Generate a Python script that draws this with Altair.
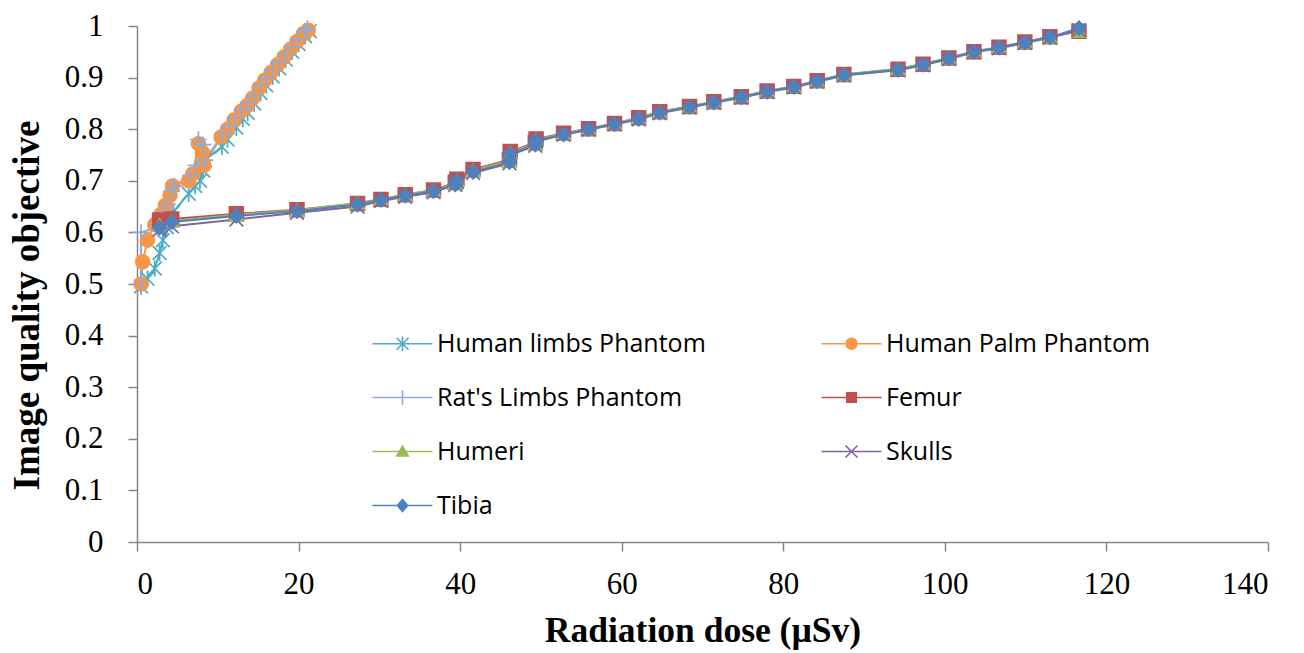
import altair as alt
import pandas as pd

# ---------------- data ----------------
series_names = ["Human limbs Phantom", "Human Palm Phantom", "Rat's Limbs Phantom",
                "Femur", "Humeri", "Skulls", "Tibia"]

limbs_x = [0.5, 1.3, 2.2, 2.8, 3.2, 3.7, 4.5, 6.4, 7.2, 7.8, 8.2, 8.4, 10.5, 11.2, 12.3, 13.1,
           13.7, 14.5, 15.3, 16.0, 16.8, 17.6, 18.4, 19.2, 20.0, 20.8, 21.4]
limbs_y = [0.495, 0.510, 0.530, 0.560, 0.585, 0.610, 0.640, 0.675, 0.690, 0.700, 0.720, 0.740,
           0.766, 0.780, 0.803, 0.820, 0.832, 0.850, 0.870, 0.885, 0.902, 0.918, 0.935, 0.950,
           0.965, 0.980, 0.990]

palm_x = [0.5, 0.7, 1.3, 2.2, 3.0, 3.5, 4.1, 4.4, 6.4, 6.9, 7.6, 8.1, 8.3, 10.4, 11.2, 12.0,
          12.9, 13.6, 14.3, 15.1, 15.8, 16.6, 17.4, 18.2, 19.0, 19.8, 20.6, 21.2]
palm_y = [0.500, 0.543, 0.585, 0.615, 0.635, 0.652, 0.672, 0.690, 0.700, 0.713, 0.772, 0.755,
          0.730, 0.785, 0.800, 0.818, 0.835, 0.845, 0.860, 0.880, 0.895, 0.910, 0.925, 0.940,
          0.955, 0.970, 0.985, 0.992]

rat_x = [0.5, 0.5, 2.5, 3.2, 3.8, 4.3, 4.6, 6.6, 7.3, 7.6, 8.2, 8.4, 10.6, 11.4, 12.2, 13.0,
         13.8, 14.5, 15.3, 16.0, 16.8, 17.6, 18.4, 19.2, 20.0, 20.8, 21.1]
rat_y = [0.500, 0.600, 0.610, 0.640, 0.655, 0.680, 0.690, 0.710, 0.730, 0.780, 0.770, 0.740,
         0.790, 0.805, 0.822, 0.838, 0.850, 0.865, 0.885, 0.900, 0.915, 0.930, 0.945, 0.960,
         0.975, 0.990, 0.995]

bone_x = [2.8, 4.3, 12.3, 19.8, 27.3, 30.2, 33.2, 36.7, 39.4, 39.6, 41.6, 46.1, 46.2, 49.3,
          49.4, 52.8, 55.9, 59.1, 62.1, 64.7, 68.4, 71.4, 74.8, 78.0, 81.3, 84.2, 87.5, 94.2,
          97.3, 100.5, 103.6, 106.7, 109.9, 113.0, 116.6]
femur_y = [0.624, 0.626, 0.636, 0.644, 0.656, 0.664, 0.673, 0.682, 0.697, 0.703, 0.722, 0.741,
           0.757, 0.774, 0.781, 0.792, 0.801, 0.811, 0.822, 0.834, 0.844, 0.853, 0.863, 0.874,
           0.883, 0.894, 0.906, 0.916, 0.926, 0.938, 0.950, 0.959, 0.969, 0.979, 0.990]
humeri_y = [0.615, 0.622, 0.634, 0.643, 0.657, 0.665, 0.673, 0.682, 0.695, 0.701, 0.720, 0.739,
            0.755, 0.772, 0.780, 0.791, 0.801, 0.811, 0.822, 0.834, 0.844, 0.853, 0.864, 0.874,
            0.883, 0.894, 0.906, 0.917, 0.927, 0.938, 0.951, 0.959, 0.969, 0.979, 0.990]
skulls_y = [0.605, 0.612, 0.625, 0.638, 0.650, 0.661, 0.669, 0.678, 0.692, 0.698, 0.715, 0.734,
            0.750, 0.768, 0.776, 0.789, 0.799, 0.809, 0.819, 0.831, 0.842, 0.851, 0.861, 0.872,
            0.881, 0.892, 0.904, 0.914, 0.924, 0.936, 0.949, 0.957, 0.967, 0.977, 0.992]
tibia_y = [0.609, 0.620, 0.632, 0.641, 0.654, 0.663, 0.671, 0.680, 0.693, 0.700, 0.717, 0.736,
           0.752, 0.770, 0.778, 0.790, 0.800, 0.810, 0.820, 0.832, 0.843, 0.852, 0.862, 0.873,
           0.882, 0.893, 0.905, 0.915, 0.925, 0.937, 0.950, 0.958, 0.968, 0.978, 0.996]

x_ticks = [0, 20, 40, 60, 80, 100, 120, 140]
y_ticks = [0, 0.1, 0.2, 0.3, 0.4, 0.5, 0.6, 0.7, 0.8, 0.9, 1.0]

# ---------------- styles ----------------
colors = ["#4BACC6", "#F79646", "#8FA9DA", "#C0504D", "#9BBB59", "#8064A2", "#4F81BD"]
ASTER = "M-1,-1L1,1M-1,1L1,-1M0,-1.2V1.2"
PLUS = "M-1.2,0H1.2M0,-1.2V1.2"
CROSS = "M-1,-1L1,1M-1,1L1,-1"
marker_shapes = [ASTER, "circle", PLUS, "square", "triangle-up", CROSS, "diamond"]
legend_markers = [ASTER, "M0.9,0A0.9,0.9 0 1,1 -0.9,0A0.9,0.9 0 1,1 0.9,0Z", PLUS,
                  "M-0.8,-0.8H0.8V0.8H-0.8Z", "M0,-0.9L0.95,0.75H-0.95Z", CROSS,
                  "M0,-1L0.85,0L0,1L-0.85,0Z"]
LINE = "M-5,0H5"
legend_shapes = [LINE + m for m in legend_markers]

series_xy = [(limbs_x, limbs_y), (palm_x, palm_y), (rat_x, rat_y),
             (bone_x, femur_y), (bone_x, humeri_y), (bone_x, skulls_y), (bone_x, tibia_y)]
rows = []
for si, (name, (xs, ys)) in enumerate(zip(series_names, series_xy)):
    for k, (xv, yv) in enumerate(zip(xs, ys)):
        rows.append({"series": name, "dose": xv, "q": yv, "s": si, "k": k})
df = pd.DataFrame(rows)
df_leg = df[df["k"] == 0]

x_enc = alt.X("dose:Q", scale=alt.Scale(domain=[0, 140], nice=False),
              axis=alt.Axis(values=x_ticks, title="Radiation dose (µSv)", titleY=99,
                            titleBaseline="alphabetic", titleFontSize=35.5))
y_enc = alt.Y("q:Q", scale=alt.Scale(domain=[0, 1], nice=False),
              axis=alt.Axis(values=y_ticks, format=".1~f", title="Image quality objective",
                            titleAngle=270, titleX=-99, titleY=279, titleAlign="center",
                            titleBaseline="alphabetic", titleFontSize=37, labelPadding=25))

def cscale():
    return alt.Scale(domain=series_names, range=colors)

lines = alt.Chart(df).mark_line(strokeWidth=2).encode(
    x=x_enc, y=y_enc,
    color=alt.Color("series:N", scale=cscale(), legend=None),
    detail="series:N",
    order="k:Q",
)

points = alt.Chart(df).mark_point(filled=True, size=190, strokeWidth=1.7, opacity=1).encode(
    x=x_enc, y=y_enc,
    color=alt.Color("series:N", scale=cscale(), legend=None),
    stroke=alt.Stroke("series:N", scale=cscale(), legend=None),
    shape=alt.Shape("series:N", scale=alt.Scale(domain=series_names, range=marker_shapes),
                    legend=None),
)

def leg():
    return alt.Legend(title=None, orient="none", legendX=253, legendY=305,
                      direction="horizontal", columns=2, padding=0, rowPadding=28,
                      columnPadding=112, symbolSize=144, symbolStrokeWidth=1.6,
                      labelOffset=22, labelFont="Open Sans", labelFontSize=25,
                      labelColor="#000000", labelLimit=400, symbolOpacity=1)

legend_layer = alt.Chart(df_leg).mark_point(filled=True, size=144, opacity=0).encode(
    x=x_enc, y=y_enc,
    color=alt.Color("series:N", scale=cscale(), legend=leg()),
    stroke=alt.Stroke("series:N", scale=cscale(), legend=leg()),
    shape=alt.Shape("series:N", scale=alt.Scale(domain=series_names, range=legend_shapes),
                    legend=leg()),
)

chart = alt.layer(lines, points, legend_layer).resolve_scale(
    shape="independent").resolve_legend(
    color="independent", stroke="independent", shape="independent").properties(
    width=1131, height=516,
    padding={"left": 137, "top": 26, "right": 36, "bottom": 111},
    autosize=alt.AutoSizeParams(type="none"),
).configure_view(stroke=None).configure_axis(
    grid=False, domainColor="#868686", domainWidth=1.5, tickColor="#868686", tickWidth=1.5,
    tickSize=9, labelFont="Liberation Serif", labelFontSize=31, labelColor="#000000",
    labelPadding=18, titleFont="Liberation Serif", titleFontSize=34, titleFontWeight="bold",
    titleColor="#000000",
)

chart.save("out.html", embed_options={"renderer": "svg", "actions": False})
